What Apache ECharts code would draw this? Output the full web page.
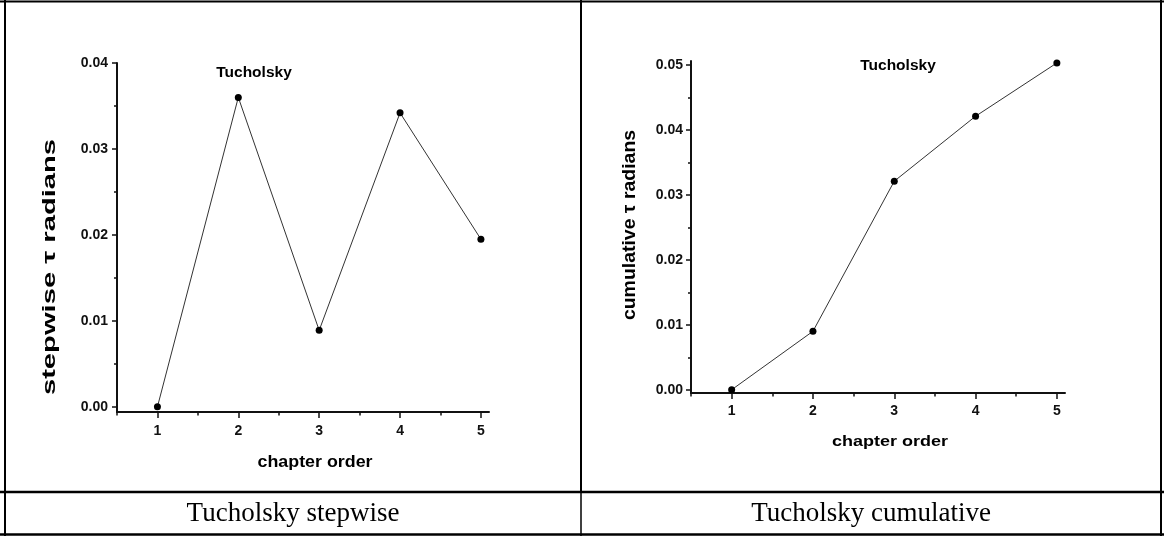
<!DOCTYPE html>
<html>
<head>
<meta charset="utf-8">
<script src="https://cdn.jsdelivr.net/npm/echarts@6/dist/echarts.min.js"></script>
<style>
  html, body { margin: 0; padding: 0; background: #fff; }
  #chart { width: 1164px; height: 536px; }
</style>
</head>
<body>
<div id="chart"></div>
<script>
// chapter positions on the x axis
const chapters = [1, 2, 3, 4, 5];
// rotation angle tau (radians) per chapter step, and accumulated
const stepwise = [0.0, 0.0360, 0.0089, 0.0342, 0.0195];
const cumulative = [0.0, 0.0090, 0.0321, 0.0421, 0.0503];

// tick labels and tick marks
const xLabelTicks = [1, 2, 3, 4, 5];
const xMinorTicks = [0.5, 1.5, 2.5, 3.5, 4.5];
const yStepLabelTicks = [0, 0.01, 0.02, 0.03, 0.04];
const yStepMinorTicks = [0.005, 0.015, 0.025, 0.035];
const yCumLabelTicks = [0, 0.01, 0.02, 0.03, 0.04, 0.05];
const yCumMinorTicks = [0.005, 0.015, 0.025, 0.035, 0.045];

const chartTitle = 'Tucholsky';
const xName = 'chapter order';
const yStepName = 'stepwise \u03c4 radians';
const yCumName = 'cumulative \u03c4 radians';
const captions = ['Tucholsky stepwise', 'Tucholsky cumulative'];

const SANS = '"Liberation Sans", Arial, sans-serif';
const SERIF = '"Liberation Serif", "Times New Roman", serif';
const INK = '#111';

function pairs(xs, ys) { return xs.map((x, i) => [x, ys[i]]); }

function mainX(grid, labelMargin) {
  return {
    type: 'value', gridIndex: grid, position: 'bottom',
    min: 0.5, max: 5.1,
    axisLine: { show: true, onZero: false, lineStyle: { color: INK, width: 2 } },
    axisTick: { show: true, inside: false, length: 6, customValues: xLabelTicks, lineStyle: { color: INK, width: 1.5 } },
    axisLabel: { show: true, customValues: xLabelTicks, margin: labelMargin,
      fontFamily: SANS, fontWeight: 'bold', fontSize: 14, color: INK,
      formatter: v => String(Math.round(v)) },
    splitLine: { show: false }
  };
}
function minorX(grid) {
  return {
    type: 'value', gridIndex: grid, position: 'bottom', offset: 0,
    min: 0.5, max: 5.1,
    axisLine: { show: false, onZero: false },
    axisTick: { show: true, inside: false, length: 3.5, customValues: xMinorTicks, lineStyle: { color: INK, width: 1.5 } },
    axisLabel: { show: false },
    splitLine: { show: false }
  };
}
function mainY(grid, min, max, labels, labelMargin) {
  return {
    type: 'value', gridIndex: grid, position: 'left',
    min: min, max: max,
    axisLine: { show: true, onZero: false, lineStyle: { color: INK, width: 2 } },
    axisTick: { show: true, inside: false, length: 5, customValues: labels, lineStyle: { color: INK, width: 1.5 } },
    axisLabel: { show: true, customValues: labels, margin: labelMargin,
      fontFamily: SANS, fontWeight: 'bold', fontSize: 14, color: INK,
      formatter: v => v.toFixed(2) },
    splitLine: { show: false }
  };
}
function minorY(grid, min, max, minors) {
  return {
    type: 'value', gridIndex: grid, position: 'left', offset: 0,
    min: min, max: max,
    axisLine: { show: false, onZero: false },
    axisTick: { show: true, inside: false, length: 3, customValues: minors, lineStyle: { color: INK, width: 1.5 } },
    axisLabel: { show: false },
    splitLine: { show: false }
  };
}
function lineSeries(xi, yi, data) {
  return {
    type: 'line', xAxisIndex: xi, yAxisIndex: yi,
    data: data, symbol: 'circle', symbolSize: 7,
    itemStyle: { color: '#000' },
    lineStyle: { color: '#333', width: 1 },
    animation: false, z: 3
  };
}
function txt(x, y, text, font, opts) {
  return Object.assign({
    type: 'text', x: x, y: y, silent: true,
    style: Object.assign({ text: text, font: font, fill: '#000', align: 'center', verticalAlign: 'middle' }, (opts && opts.style) || {})
  }, (opts && opts.el) || {});
}
function line(x1, y1, x2, y2, w) {
  return { type: 'line', silent: true, shape: { x1, y1, x2, y2 }, style: { stroke: '#000', lineWidth: w } };
}

const chart = echarts.init(document.getElementById('chart'), null, { renderer: 'canvas' });
chart.setOption({
  backgroundColor: '#fff',
  animation: false,
  grid: [
    { left: 117, top: 63, width: 372, height: 349 },
    { left: 691, top: 61, width: 374, height: 332 }
  ],
  xAxis: [mainX(0, 12), minorX(0), mainX(1, 11), minorX(1)],
  yAxis: [
    mainY(0, -0.0006, 0.04, yStepLabelTicks, 9),
    minorY(0, -0.0006, 0.04, yStepMinorTicks),
    mainY(1, -0.0005, 0.0506, yCumLabelTicks, 8),
    minorY(1, -0.0005, 0.0506, yCumMinorTicks)
  ],
  series: [
    lineSeries(0, 0, pairs(chapters, stepwise)),
    lineSeries(2, 2, pairs(chapters, cumulative))
  ],
  graphic: [
    // table frame
    line(0, 1.5, 1164, 1.5, 2),
    line(5, 0, 5, 536, 2),
    line(1161, 0, 1161, 536, 2),
    line(581, 0, 581, 492, 2),
    line(581, 492, 581, 536, 1.5),
    line(0, 492, 1164, 492, 2.5),
    line(0, 534.5, 1164, 534.5, 2.5),
    // captions under each plot
    txt(293, 514, captions[0], '27px ' + SERIF),
    txt(871, 514, captions[1], '27px ' + SERIF),
    // plot titles
    txt(254, 73, chartTitle, 'bold 15.5px ' + SANS),
    txt(898, 66, chartTitle, 'bold 15.5px ' + SANS),
    // x axis names
    txt(315, 462, xName, 'bold 17px ' + SANS, { el: { scaleX: 1.05 } }),
    txt(890, 442, xName, 'bold 15px ' + SANS, { el: { scaleX: 1.2 } }),
    // y axis names, reading bottom to top
    txt(50, 267, yStepName, 'bold 18px ' + SANS, { el: { rotation: Math.PI / 2, scaleX: 1.62 } }),
    txt(630, 225, yCumName, 'bold 18px ' + SANS, { el: { rotation: Math.PI / 2, scaleX: 1.08 } })
  ]
});
</script>
</body>
</html>
